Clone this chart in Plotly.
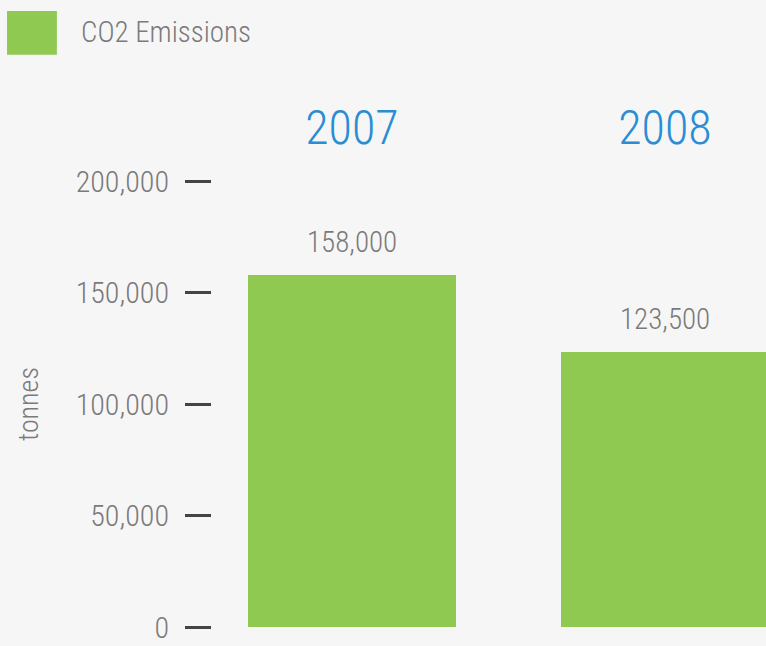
import plotly.graph_objects as go

years = ["2007", "2008"]
emissions = [158000, 123500]
value_labels = ["158,000", "123,500"]
tick_vals = [0, 50000, 100000, 150000, 200000]
tick_text = ["0", "50,000", "100,000", "150,000", "200,000"]
series_name = "CO2 Emissions"

FONT = "Roboto Condensed, Liberation Sans Narrow, sans-serif"
GREEN = "#8fc952"
BLUE = "#2a8dd4"
GRAY = "#7a7a7a"
BG = "#f6f6f6"

fig = go.Figure()
fig.add_trace(go.Bar(
    x=years, y=emissions, name=series_name,
    marker=dict(color=GREEN, line=dict(width=0)),
    width=0.665, showlegend=False, hoverinfo="x+y",
))

for i, (y, t) in enumerate(zip(emissions, value_labels)):
    fig.add_annotation(x=i, y=y, text=t, showarrow=False, yanchor="bottom",
                       yshift=14, font=dict(family=FONT, size=29, color=GRAY, weight=300))

# legend swatch + label
fig.add_shape(type="rect", xref="paper", yref="paper", x0=-0.370, x1=-0.280,
              y0=1.283, y1=1.381, fillcolor=GREEN, line=dict(width=0), layer="above")
fig.add_annotation(xref="paper", yref="paper", x=-0.240, y=1.335, text=series_name,
                   showarrow=False, xanchor="left", yanchor="middle",
                   font=dict(family=FONT, size=29, color=GRAY, weight=300))

fig.update_layout(
    width=766, height=646,
    margin=dict(l=212, r=0, t=181, b=19),
    paper_bgcolor=BG, plot_bgcolor=BG,
    bargap=0,
    xaxis=dict(side="top", type="category", range=[-0.447, 1.323],
               showgrid=False, zeroline=False, showline=False, ticks="",
               tickfont=dict(family=FONT, size=48, color=BLUE, weight=300),
               ticklabelstandoff=26),
    yaxis=dict(range=[0, 200000], tickvals=tick_vals, ticktext=tick_text,
               showgrid=False, zeroline=False, showline=False,
               ticks="outside", ticklen=26, tickwidth=3, tickcolor="#444444",
               tickfont=dict(family=FONT, size=30, color=GRAY, weight=300),
               ticklabelstandoff=10,
               title=dict(text="tonnes", standoff=28,
                          font=dict(family=FONT, size=28, color=GRAY, weight=300))),
)

fig.write_html("out.html", config={"displayModeBar": False},
               post_script="document.body.style.margin='0';")
